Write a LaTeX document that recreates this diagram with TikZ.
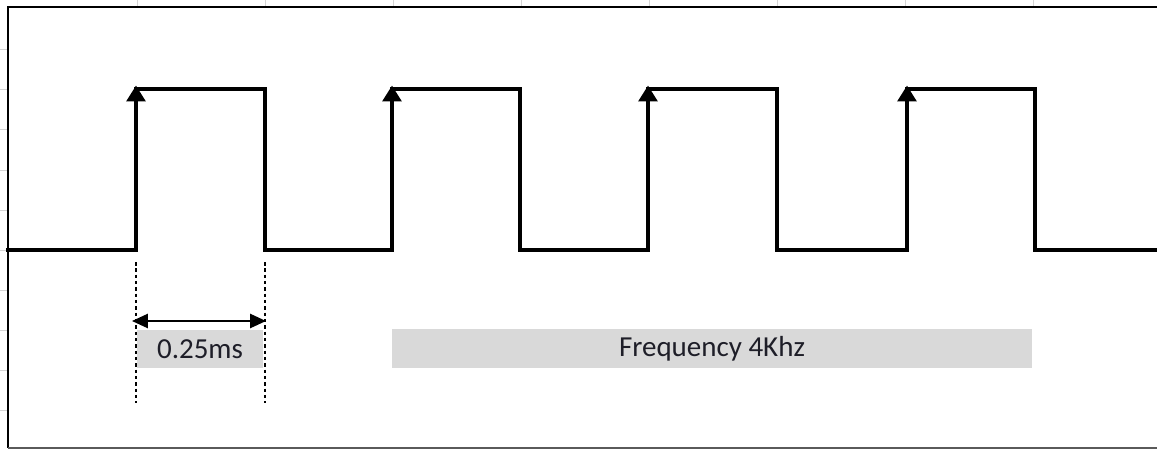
\documentclass[tikz,border=0pt]{standalone}
\usepackage{fontspec}
\setmainfont{Carlito}
\usepackage{tikz}
\usetikzlibrary{arrows.meta, positioning}
\definecolor{pulsegrey}{HTML}{D9D9D9}
\definecolor{pulseink}{HTML}{1E1E28}
\definecolor{sheettick}{HTML}{D4D4D4}
\definecolor{framegrey}{HTML}{5A5A5A}

\tikzset{
  signal/.style={line width=2.6pt, line join=miter, line cap=rect},
  edgemark/.style={line width=0.7pt, dash pattern=on 2pt off 1.6pt},
  spanlabel/.style={fill=pulsegrey, text=pulseink, inner sep=0pt,
    font=\fontsize{16.5}{19}\selectfont},
}

\begin{document}
\begin{tikzpicture}[x=0.02cm, y=-0.02cm]
  \useasboundingbox (0,0) rectangle (1157,450);
  % faint spreadsheet ticks round the frame
  \foreach \x in {137,265,393,521,649,777,905,1033}
    \draw[sheettick, line width=0.5pt] (\x,0) -- (\x,6);
  \foreach \y in {49,89,129,170,210,250,290,330,370,410}
    \draw[sheettick, line width=0.5pt] (0,\y) -- (7,\y);
  % frame
  \draw[line width=1.7pt] (1157,7) -- (8,7) -- (8,448);
  \draw[framegrey, line width=1pt] (8,448) -- (1157,448);

  % edges of the square wave
  \foreach \n/\r/\f in {1/136/265, 2/392/520, 3/648/777, 4/907/1035}{
    \coordinate (rise\n) at (\r,250);
    \coordinate (top\n) at (\r,89);
    \coordinate (fall\n) at (\f,250);
    \coordinate (ftop\n) at (\f,89);
  }
  \coordinate (start) at (8,250);
  \coordinate (stop) at (1157,250);

  \draw[signal] (start) -- (rise1) -- (top1) -- (ftop1) -- (fall1)
    -- (rise2) -- (top2) -- (ftop2) -- (fall2)
    -- (rise3) -- (top3) -- (ftop3) -- (fall3)
    -- (rise4) -- (top4) -- (ftop4) -- (fall4) -- (stop);
  \foreach \n in {1,...,4}
    \draw[line width=2.6pt, -{Triangle[length=9pt, width=10.5pt]}] (rise\n) -- ([yshift=2pt]top\n);

  % one pulse width
  \coordinate (markA) at (136,262);
  \coordinate (markB) at (265,262);
  \coordinate (markAend) at (136,403);
  \coordinate (markBend) at (265,403);
  \draw[edgemark] (markA) -- (markAend);
  \draw[edgemark] (markB) -- (markBend);
  \coordinate (spanA) at (132,321);
  \coordinate (spanB) at (266,321);
  \draw[line width=1.2pt, {Triangle[length=9pt, width=8pt]}-{Triangle[length=9pt, width=8pt]}] (spanA) -- (spanB);

  \node[spanlabel, minimum width=2.52cm, minimum height=0.76cm] (period) at (200,349) {0.25ms};
  \node[spanlabel, minimum width=12.8cm, minimum height=0.78cm] (freq) at (712,348.5) {Frequency 4Khz};
\end{tikzpicture}
\end{document}
